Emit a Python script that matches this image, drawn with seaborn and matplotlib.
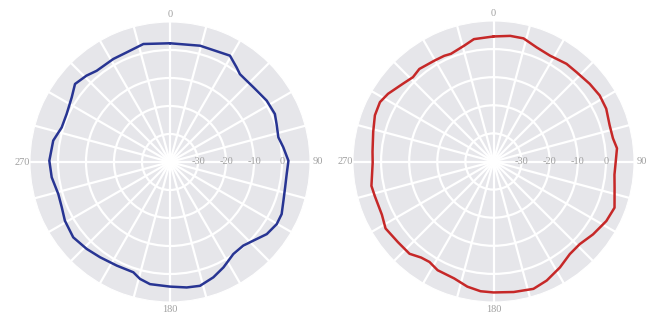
import numpy as np
import pandas as pd
import matplotlib
matplotlib.use("Agg")
import matplotlib.pyplot as plt
import seaborn as sns

# azimuth (deg, clockwise from north) and gain (dB)
angle_left = [0, 14.5, 29.4, 35.2, 38.5, 48.1, 57.6, 65.4, 70.4, 77.2, 82.6, 89.4,
              95.9, 102.4, 108.8, 115.0, 120.2, 126.7, 133.4, 138.8, 145.5, 153.1,
              159.4, 166.4, 172.4, 180, 189.3, 194.4, 198.4, 207.2, 216.3, 223.8,
              232.1, 240.8, 247.3, 254.0, 262.6, 270.6, 280.4, 287.7, 294.9, 303.3,
              309.4, 316.0, 321.2, 331.2, 338.4, 347.3]
gain_left = [2.4, 2.9, 3.6, 1.3, 0.1, 0.0, 0.9, 1.2, 0.4, -0.3, 0.8, 2.3,
             1.9, 2.1, 2.8, 4.0, 4.1, 3.1, 0.9, -0.3, -0.1, 2.2,
             4.0, 5.5, 5.2, 4.5, 4.2, 3.1, 1.5, 1.6, 2.2, 3.0,
             3.8, 3.0, 1.9, 1.5, 2.6, 3.1, 2.4, 0.6, 0.7, 2.0,
             3.9, 2.9, 1.8, 2.0, 2.1, 3.2]

angle_right = [0, 7.6, 13.7, 20.8, 28.1, 36.8, 42.9, 51.1, 58.1, 64.9, 72.6, 79.0,
               83.9, 90, 96.2, 102.3, 110.9, 117.8, 126.2, 133.8, 140.5, 147.9,
               155.9, 162.6, 171.2, 180, 185.7, 191.8, 198.6, 207.2, 212.5, 217.0,
               222.3, 229.8, 238.2, 244.5, 253.8, 258.7, 269.4, 274.7, 283.9, 291.3,
               297.6, 302.7, 310.6, 316.3, 321.3, 329.6, 335.0, 338.4, 345.7, 350.9]
gain_right = [4.5, 5.1, 5.1, 3.4, 2.7, 3.4, 3.4, 4.0, 4.5, 4.3, 3.3, 3.3,
              4.2, 3.5, 3.3, 4.1, 6.1, 5.4, 3.9, 2.5, 2.7, 4.5,
              6.4, 7.5, 7.0, 6.6, 6.4, 5.5, 3.9, 3.5, 2.4, 2.8,
              4.4, 4.5, 5.2, 4.0, 4.0, 4.3, 3.0, 3.2, 4.1, 5.3,
              5.6, 4.6, 2.5, 1.5, 2.2, 1.6, 1.5, 1.2, 2.5, 4.1]

r_ticks = [-30, -20, -10, 0]
theta_ticks = list(range(0, 360, 15))
theta_labels = [str(t) if t % 90 == 0 else "" for t in theta_ticks]

sns.set_style("darkgrid", {"axes.facecolor": "#E6E6EA", "grid.color": "white",
                           "axes.edgecolor": "white"})
plt.rcParams["font.family"] = ["Liberation Serif", "DejaVu Serif"]

fig = plt.figure(figsize=(6.47, 3.14), dpi=100)
ax_l = fig.add_axes([30 / 647, 12 / 314, 280 / 647, 280 / 314], projection="polar")
ax_r = fig.add_axes([353 / 647, 12 / 314, 281 / 647, 281 / 314], projection="polar")


def draw(ax, ang, gain, color):
    # close the loop at 360 deg so seaborn does not merge it with 0
    df = pd.DataFrame({"theta": np.deg2rad(ang + [ang[0] + 360]),
                       "gain": gain + gain[:1]})
    sns.lineplot(data=df, x="theta", y="gain", ax=ax, sort=False,
                 estimator=None, color=color, linewidth=1.8)
    ax.set_theta_zero_location("N")
    ax.set_theta_direction(-1)
    ax.set_ylim(-40, 10)
    ax.set_yticks(r_ticks)
    ax.set_yticklabels([])
    ax.set_thetagrids(theta_ticks, labels=theta_labels)
    ax.grid(True, color="white", linewidth=1.6)
    ax.tick_params(axis="x", labelsize=7.5, labelcolor="#a0a0a0", pad=-1.5, length=0)
    ax.tick_params(axis="y", length=0)
    for r in r_ticks:
        ax.text(np.pi / 2, r, f"{r}", ha="center", va="center",
                fontsize=7.5, color="#a0a0a0")
    ax.set_xlabel("")
    ax.set_ylabel("")


draw(ax_l, angle_left, gain_left, "#283593")
draw(ax_r, angle_right, gain_right, "#C62828")

fig.savefig("out.png", dpi=100)
